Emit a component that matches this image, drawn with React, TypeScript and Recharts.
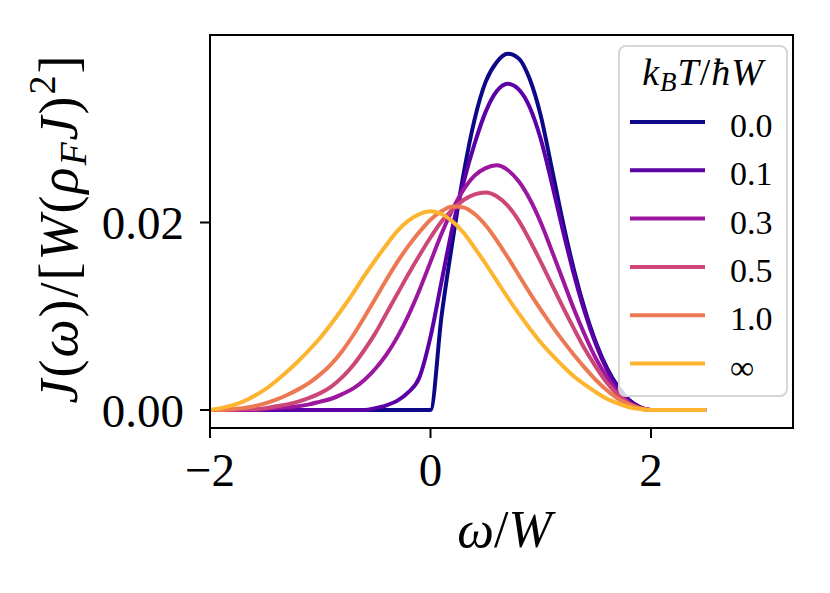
import React from "react";
import { LineChart, Line, XAxis, YAxis, ReferenceArea, Legend, Label } from "recharts";

const SERIF = '"Liberation Serif", "DejaVu Serif", serif';

// frequency grid omega / W
const omega = [
  -2.0, -1.9, -1.8, -1.7, -1.6, -1.5, -1.4, -1.3, -1.2, -1.1, -1.0, -0.9, -0.8, -0.7,
  -0.6, -0.5, -0.4, -0.3, -0.2, -0.1, 0.0, 0.1, 0.2, 0.3, 0.4, 0.5, 0.6, 0.7, 0.8, 0.9,
  1.0, 1.1, 1.2, 1.3, 1.4, 1.5, 1.6, 1.7, 1.8, 1.9, 2.0, 2.5,
];

// J(omega) / [W (rho_F J)^2] for each temperature kT / hbar W
const jT00 = [
  0, 0, 0, 0, 0, 0, 0, 0, 0, 0, 0, 0, 0, 0, 0, 0, 0, 0, 0, 0,
  0, 0.01, 0.018, 0.0252, 0.031, 0.035, 0.0371, 0.038, 0.0375, 0.0353,
  0.0314, 0.0258, 0.0201, 0.015, 0.0107, 0.0072, 0.0045, 0.0025, 0.0011, 0.0003, 0, 0,
];
const jT01 = [
  0, 0, 0, 0, 0, 0, 0, 0, 0, 0, 0, 0, 0, 0, 0, 0.0002, 0.0005, 0.001, 0.0019, 0.0035,
  0.0078, 0.0137, 0.0195, 0.0243, 0.0284, 0.0318, 0.034, 0.0348, 0.0342, 0.0323,
  0.0289, 0.0242, 0.0192, 0.0145, 0.0104, 0.007, 0.0043, 0.0023, 0.001, 0.0003, 0, 0,
];
const jT03 = [
  0, 0, 0, 0, 0, 0.0001, 0.0002, 0.0003, 0.0004, 0.0006, 0.0009, 0.0012, 0.0017, 0.0023,
  0.0032, 0.0044, 0.0059, 0.0078, 0.0101, 0.0128,
  0.0158, 0.0188, 0.0214, 0.0235, 0.025, 0.0258, 0.0261, 0.0256, 0.0244, 0.0225,
  0.02, 0.017, 0.0139, 0.0108, 0.008, 0.0055, 0.0035, 0.0019, 0.0008, 0.0002, 0, 0,
];
const jT05 = [
  0, 0, 0, 0.0001, 0.0001, 0.0002, 0.0004, 0.0006, 0.0009, 0.0013, 0.0018, 0.0025, 0.0035,
  0.0048, 0.0064, 0.0082, 0.0103, 0.0124, 0.0145, 0.0165,
  0.0184, 0.0201, 0.0214, 0.0224, 0.023, 0.0232, 0.0228, 0.0218, 0.0202, 0.0181,
  0.0158, 0.0134, 0.011, 0.0087, 0.0065, 0.0046, 0.0029, 0.0016, 0.0007, 0.0002, 0, 0,
];
const jT10 = [
  0, 0, 0.0001, 0.0002, 0.0004, 0.0007, 0.0011, 0.0016, 0.0022, 0.0029, 0.0038, 0.0049,
  0.0063, 0.008, 0.0099, 0.0119, 0.0139, 0.0158, 0.0175, 0.019,
  0.0203, 0.0212, 0.0217, 0.0216, 0.0209, 0.0197, 0.0181, 0.0163, 0.0144, 0.0125,
  0.0107, 0.009, 0.0074, 0.0059, 0.0045, 0.0032, 0.0021, 0.0012, 0.0006, 0.0002, 0, 0,
];
const jTinf = [
  0, 0.0002, 0.0005, 0.0009, 0.0015, 0.0022, 0.0031, 0.0041, 0.0052, 0.0064, 0.0077, 0.0092,
  0.0108, 0.0125, 0.0143, 0.016, 0.0176, 0.0191, 0.0202, 0.0209,
  0.0212, 0.0209, 0.0201, 0.0189, 0.0173, 0.0156, 0.0138, 0.012, 0.0103, 0.0087,
  0.0072, 0.0059, 0.0047, 0.0036, 0.0027, 0.0019, 0.0012, 0.0007, 0.0003, 0.0001, 0, 0,
];

const xTicks = [-2, 0, 2];
const yTicks = [0, 0.02];
const legendLabels = ["0.0", "0.1", "0.3", "0.5", "1.0", "∞"];

const SERIES = [
  { key: "t00", color: "#0d0887", values: jT00 },
  { key: "t01", color: "#5c01a6", values: jT01 },
  { key: "t03", color: "#9c179e", values: jT03 },
  { key: "t05", color: "#cc4778", values: jT05 },
  { key: "t10", color: "#ed7953", values: jT10 },
  { key: "tinf", color: "#fdb42f", values: jTinf },
];

const data = omega.map((w, i) => {
  const row: Record<string, number> = { w };
  SERIES.forEach((s) => {
    row[s.key] = s.values[i];
  });
  return row;
});

const X_DOMAIN = [-2, 3.288];
const Y_DOMAIN = [-0.00192, 0.04];

function XTitle(props: any) {
  const vb = props.viewBox;
  return (
    <text x={vb.x + vb.width / 2 + 3} y={vb.y + 119} textAnchor="middle" fontFamily={SERIF} fontSize={52} fill="#000">
      <tspan fontStyle="italic">ω</tspan>
      <tspan>/</tspan>
      <tspan fontStyle="italic">W</tspan>
    </text>
  );
}

function YTitle(props: any) {
  const vb = props.viewBox;
  const x = 77;
  const y = vb.y + vb.height / 2 - 3;
  return (
    <text
      x={x}
      y={y}
      transform={`rotate(-90, ${x}, ${y})`}
      textAnchor="middle"
      fontFamily={SERIF}
      fontSize={54}
      letterSpacing={2}
      fill="#000"
    >
      <tspan fontStyle="italic">J</tspan>
      <tspan>(</tspan>
      <tspan fontStyle="italic">ω</tspan>
      <tspan>)/[</tspan>
      <tspan fontStyle="italic">W</tspan>
      <tspan>(</tspan>
      <tspan fontStyle="italic">ρ</tspan>
      <tspan fontStyle="italic" fontSize={38} dy={9}>F</tspan>
      <tspan fontStyle="italic" dy={-9}>J</tspan>
      <tspan>)</tspan>
      <tspan fontSize={38} dy={-22}>2</tspan>
      <tspan dy={22}>]</tspan>
    </text>
  );
}

function LegendBox() {
  return (
    <svg width={172} height={354} style={{ display: "block" }}>
      <rect x={1} y={1} width={168} height={350} rx={7} fill="#fff" fillOpacity={0.8} stroke="#d6d6d6" strokeWidth={2} />
      <text x={85} y={40} textAnchor="middle" fontFamily={SERIF} fontSize={38} letterSpacing={1} fill="#000">
        <tspan fontStyle="italic">k</tspan>
        <tspan fontStyle="italic" fontSize={27} dy={6}>B</tspan>
        <tspan fontStyle="italic" dy={-6}>T</tspan>
        <tspan>/</tspan>
        <tspan fontStyle="italic">ħW</tspan>
      </text>
      {SERIES.map((s, i) => (
        <g key={s.key}>
          <line x1={12} x2={87} y1={77 + i * 48.3} y2={77 + i * 48.3} stroke={s.color} strokeWidth={4} />
          <text x={112} y={92 + i * 48.3} fontFamily={SERIF} fontSize={34} fill="#000">
            {legendLabels[i]}
          </text>
        </g>
      ))}
    </svg>
  );
}

export default function App() {
  return (
    <div style={{ position: "absolute", left: 0, top: 0, width: 830, height: 593, background: "#fff" }}>
      <LineChart width={830} height={593} data={data} margin={{ top: 35, right: 37, bottom: 105, left: 110 }}>
        <ReferenceArea
          x1={X_DOMAIN[0]}
          x2={X_DOMAIN[1]}
          y1={Y_DOMAIN[0]}
          y2={Y_DOMAIN[1]}
          fill="none"
          stroke="#000"
          strokeWidth={2}
          fillOpacity={0}
        />
        <XAxis
          dataKey="w"
          type="number"
          domain={X_DOMAIN}
          allowDataOverflow
          ticks={xTicks}
          interval={0}
          height={60}
          tickSize={10}
          tickMargin={15}
          axisLine={{ stroke: "#000", strokeWidth: 2 }}
          tickLine={{ stroke: "#000", strokeWidth: 2 }}
          tick={{ fontFamily: SERIF, fontSize: 47, fill: "#000" }}
          tickFormatter={(v: number) => String(v).replace("-", "\u2212")}
        >
          <Label content={XTitle} />
        </XAxis>
        <YAxis
          type="number"
          domain={Y_DOMAIN}
          allowDataOverflow
          ticks={yTicks}
          interval={0}
          width={100}
          tickSize={10}
          tickMargin={16}
          axisLine={{ stroke: "#000", strokeWidth: 2 }}
          tickLine={{ stroke: "#000", strokeWidth: 2 }}
          tick={{ fontFamily: SERIF, fontSize: 47, fill: "#000" }}
          tickFormatter={(v: number) => v.toFixed(2)}
        >
          <Label content={YTitle} />
        </YAxis>
        {SERIES.map((s) => (
          <Line
            key={s.key}
            dataKey={s.key}
            type="monotone"
            stroke={s.color}
            strokeWidth={4}
            dot={false}
            activeDot={false}
            isAnimationActive={false}
          />
        ))}
        <Legend
          layout="vertical"
          align="center"
          verticalAlign="middle"
          content={() => <LegendBox />}
          wrapperStyle={{ left: 618, top: 45, width: 172, height: 354 }}
        />
      </LineChart>
    </div>
  );
}
